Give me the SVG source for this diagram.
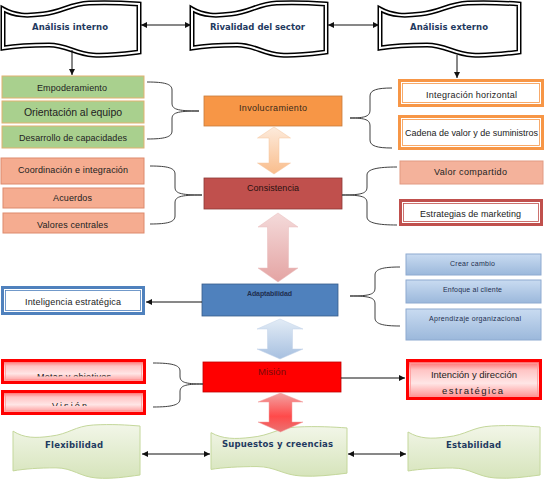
<svg xmlns="http://www.w3.org/2000/svg" xmlns:xlink="http://www.w3.org/1999/xlink" width="546" height="480" viewBox="0 0 546 480">
<style>
text{font-family:"Liberation Sans",Arial,sans-serif;font-size:9px;fill:#222}
.bt{font-family:"DejaVu Sans","Liberation Sans",sans-serif;font-weight:bold;font-size:8.5px;fill:#1f3a60}
.sm{font-size:7px;fill:#1f2f50}
.br{fill:none;stroke:#404040;stroke-width:1}
.ln{fill:none;stroke:#111;stroke-width:1}
.wOut{fill:#fff;stroke:#000;stroke-width:5}
.wIn{fill:none;stroke:#fff;stroke-width:2}
.wG{fill:url(#gGreen);stroke:#c4d79b;stroke-width:1}
.green{fill:#a9d08e;stroke:#e2b271;stroke-width:1}
.pink{fill:#f5ac90;stroke:#dd8a6d;stroke-width:1}
.blue{fill:url(#gBlue);stroke:#8eaad0;stroke-width:1}
.red{fill:url(#gRed);stroke:#ff0000;stroke-width:3}
.redIn{fill:none;stroke:#ff9a9a;stroke-width:0.8}
</style>
<defs>
<path id="wave" vector-effect="non-scaling-stroke" d="M0,6 C12,13 24,13 40,11 C60,9 66,1 86,0 C106,-1 122,0 136,1 L136,49 C120,51 106,53 90,52 C72,51 64,42 46,42 C28,42 12,43 0,45 Z"/>
<linearGradient id="gGreen" x1="0" y1="0" x2="0" y2="1"><stop offset="0" stop-color="#f2f6e8"/><stop offset="1" stop-color="#d6e4bb"/></linearGradient>
<linearGradient id="gBlue" x1="0" y1="0" x2="0" y2="1"><stop offset="0" stop-color="#c9dbf1"/><stop offset="1" stop-color="#9bb8db"/></linearGradient>
<linearGradient id="gRed" x1="0" y1="0" x2="0" y2="1"><stop offset="0" stop-color="#ff5a5a"/><stop offset="0.25" stop-color="#ffc4c4"/><stop offset="0.6" stop-color="#ffe6e6"/><stop offset="1" stop-color="#ff8a8a"/></linearGradient>
<linearGradient id="gA1" x1="0" y1="0" x2="0" y2="1"><stop offset="0" stop-color="#fdebdc"/><stop offset="1" stop-color="#f9bd8c"/></linearGradient>
<linearGradient id="gA2" x1="0" y1="0" x2="0" y2="1"><stop offset="0" stop-color="#f4dada"/><stop offset="1" stop-color="#e4a4a3"/></linearGradient>
<linearGradient id="gA3" x1="0" y1="0" x2="0" y2="1"><stop offset="0" stop-color="#e3ecf6"/><stop offset="1" stop-color="#a7c0e0"/></linearGradient>
<linearGradient id="gA4" x1="0" y1="0" x2="0" y2="1"><stop offset="0" stop-color="#f2a3a3"/><stop offset="0.6" stop-color="#ff4a4a"/><stop offset="1" stop-color="#ea7373"/></linearGradient>
<marker id="ah" viewBox="0 0 10 10" refX="10" refY="5" markerWidth="6" markerHeight="6" markerUnits="userSpaceOnUse" orient="auto-start-reverse"><path d="M0,0 L10,5 L0,10 Z" fill="#111"/></marker>
<clipPath id="cMetas"><rect x="4" y="362" width="139" height="14.5"/></clipPath>
<clipPath id="cVision"><rect x="4" y="393" width="139" height="13"/></clipPath>
</defs>

<g id="analisis-interno">
<use href="#wave" class="wOut" transform="translate(3,3)"/>
<use href="#wave" class="wIn" transform="translate(3,3)"/>
<text class="bt" x="32" y="30" textLength="76" lengthAdjust="spacing">Análisis interno</text>
</g>
<g id="rivalidad-sector">
<use href="#wave" class="wOut" transform="translate(192,3) scale(0.985,1)"/>
<use href="#wave" class="wIn" transform="translate(192,3) scale(0.985,1)"/>
<text class="bt" x="210" y="30" textLength="95" lengthAdjust="spacing">Rivalidad del sector</text>
</g>
<g id="analisis-externo">
<use href="#wave" class="wOut" transform="translate(380,3) scale(1.022,1)"/>
<use href="#wave" class="wIn" transform="translate(380,3) scale(1.022,1)"/>
<text class="bt" x="410" y="30" textLength="78" lengthAdjust="spacing">Análisis externo</text>
</g>

<g id="empoderamiento"><rect class="green" x="2" y="76" width="142" height="22"/><text x="37" y="91" font-size="8.5" textLength="70" lengthAdjust="spacing">Empoderamiento</text></g>
<g id="orientacion-equipo"><rect class="green" x="2" y="101" width="142" height="22"/><text x="24" y="116" style="font-size:10.5px" textLength="98" lengthAdjust="spacing">Orientación al equipo</text></g>
<g id="desarrollo-capacidades"><rect class="green" x="2" y="126" width="142" height="22"/><text x="19" y="141" textLength="108" lengthAdjust="spacing">Desarrollo de capacidades</text></g>

<g id="coordinacion"><rect class="pink" x="1" y="158" width="143" height="26"/><text x="18" y="173" textLength="110" lengthAdjust="spacing">Coordinación e integración</text></g>
<g id="acuerdos"><rect class="pink" x="3" y="188" width="141" height="20"/><text x="53" y="201" textLength="39" lengthAdjust="spacing">Acuerdos</text></g>
<g id="valores-centrales"><rect class="pink" x="3" y="213" width="141" height="20"/><text x="37" y="228" textLength="71" lengthAdjust="spacing">Valores centrales</text></g>

<g id="involucramiento"><rect x="204" y="96" width="138" height="30" fill="#f79646" stroke="#c77a3a" stroke-width="0.8"/><text x="239" y="111" textLength="68" lengthAdjust="spacing" style="fill:#3a2a1a">Involucramiento</text></g>
<g id="consistencia"><rect x="204" y="178" width="138" height="31" fill="#c0504d" stroke="#8c3836" stroke-width="0.8"/><text x="247" y="191" textLength="52" lengthAdjust="spacing" style="fill:#2a1010">Consistencia</text></g>
<g id="adaptabilidad"><rect x="202" y="284" width="136" height="32" fill="#4f81bd" stroke="#385d8a" stroke-width="0.8"/><text class="sm" x="247" y="295.5" font-weight="bold" textLength="45" lengthAdjust="spacing">Adaptabilidad</text></g>
<g id="mision"><rect x="203" y="362" width="138" height="30" fill="#ff0000" stroke="#c00000" stroke-width="0.8"/><text x="258" y="374.5" style="font-size:9.5px;fill:#7a0a0a" textLength="28" lengthAdjust="spacing">Misión</text></g>

<g id="integracion-horizontal"><rect x="399.5" y="80.5" width="143" height="25" fill="#fff" stroke="#f79646" stroke-width="3"/><rect x="402.5" y="83.5" width="137" height="19" fill="none" stroke="#f79646" stroke-width="0.8"/><text x="426" y="98" textLength="91" lengthAdjust="spacing">Integración horizontal</text></g>
<g id="cadena-valor"><rect x="399.5" y="116.5" width="143" height="32" fill="#fff" stroke="#f79646" stroke-width="3"/><rect x="402.5" y="119.5" width="137" height="26" fill="none" stroke="#f79646" stroke-width="0.8"/><text x="405" y="136" textLength="133" lengthAdjust="spacing">Cadena de valor y de suministros</text></g>
<g id="valor-compartido"><rect x="400" y="161" width="143" height="23" fill="#f4b29b" stroke="#e29a82" stroke-width="1"/><text x="434" y="175" textLength="73" lengthAdjust="spacing">Valor compartido</text></g>
<g id="estrategias-marketing"><rect x="400.5" y="200.5" width="141" height="24" fill="#fff" stroke="#c0504d" stroke-width="3"/><rect x="403.5" y="203.5" width="135" height="18" fill="none" stroke="#c0504d" stroke-width="0.8"/><text x="420" y="217" textLength="101" lengthAdjust="spacing">Estrategias de marketing</text></g>

<g id="inteligencia-estrategica"><rect x="2.5" y="287.5" width="141" height="26" fill="#fff" stroke="#4f81bd" stroke-width="3"/><rect x="5.5" y="290.5" width="135" height="20" fill="none" stroke="#4f81bd" stroke-width="0.8"/><text x="25" y="305" textLength="96" lengthAdjust="spacing">Inteligencia estratégica</text></g>

<g id="crear-cambio"><rect class="blue" x="406" y="254" width="135" height="21"/><text class="sm" x="450" y="265.5" textLength="45" lengthAdjust="spacing">Crear cambio</text></g>
<g id="enfoque-cliente"><rect class="blue" x="406" y="280" width="135" height="23"/><text class="sm" x="443" y="291.5" textLength="59" lengthAdjust="spacing">Enfoque al cliente</text></g>
<g id="aprendizaje-organizacional"><rect class="blue" x="406" y="309" width="135" height="31"/><text class="sm" x="429" y="320.5" textLength="92" lengthAdjust="spacing">Aprendizaje organizacional</text></g>

<g id="metas-objetivos"><rect class="red" x="2.5" y="360.5" width="142" height="22"/><rect class="redIn" x="5.5" y="363.5" width="136" height="16"/><text clip-path="url(#cMetas)" x="37" y="379.5" textLength="74" lengthAdjust="spacing">Metas y objetivos</text></g>
<g id="vision"><rect class="red" x="2.5" y="391.5" width="142" height="22"/><rect class="redIn" x="5.5" y="394.5" width="136" height="16"/><text clip-path="url(#cVision)" x="52" y="409" textLength="35" lengthAdjust="spacing">Visión</text></g>
<g id="intencion-direccion"><rect class="red" x="407.5" y="360.5" width="133" height="38"/><rect class="redIn" x="410.5" y="363.5" width="127" height="32"/><text x="431" y="378" style="font-size:9.5px" textLength="86" lengthAdjust="spacing">Intención y dirección</text><text x="442" y="393.5" style="font-size:9.5px" textLength="61" lengthAdjust="spacing">estratégica</text></g>

<g id="flexibilidad">
<use href="#wave" class="wG" transform="translate(13,425) scale(0.934,1.02)"/>
<text class="bt" x="45" y="448" textLength="58" lengthAdjust="spacing">Flexibilidad</text>
</g>
<g id="supuestos-creencias">
<use href="#wave" class="wG" transform="translate(211,427) scale(1,0.942)"/>
<text class="bt" x="222" y="447" textLength="111" lengthAdjust="spacing">Supuestos y creencias</text>
</g>
<g id="estabilidad">
<use href="#wave" class="wG" transform="translate(408,426) scale(0.971,1)"/>
<text class="bt" x="446" y="448" textLength="55" lengthAdjust="spacing">Estabilidad</text>
</g>

<g id="connectors">
<path class="ln" d="M141,25 L191,25" marker-start="url(#ah)" marker-end="url(#ah)"/>
<path class="ln" d="M328,25 L379,25" marker-start="url(#ah)" marker-end="url(#ah)"/>
<path class="ln" d="M72,50 L72,75" marker-end="url(#ah)"/>
<path class="ln" d="M457,55 L457,78" marker-end="url(#ah)"/>
<path class="ln" d="M202,302 L146,302" marker-end="url(#ah)"/>
<path class="ln" d="M341,378 L405,378" marker-end="url(#ah)"/>
<path class="ln" d="M142,454 L210,454" marker-start="url(#ah)" marker-end="url(#ah)"/>
<path class="ln" d="M348,454 L406,454" marker-start="url(#ah)" marker-end="url(#ah)"/>

<path class="br" d="M147,82 C165,82 172,84 172,90 L172,103 C172,109 176,111 199,111 C176,111 172,113 172,119 L172,131 C172,137 165,139 147,139"/>
<path class="br" d="M150,166 C168,166 175,168 175,174 L175,187 C175,193 179,195 202,195 C179,195 175,197 175,203 L175,216 C175,222 168,224 150,224"/>
<path class="br" d="M153,363 C172,363 180,365 180,371 L180,376 C180,382 184,384 203,384 C184,384 180,386 180,392 L180,399 C180,405 172,407 153,407"/>
<path class="br" d="M392,88 C377,88 370,90 370,96 L370,110 C370,116 366,118 350,118 C366,118 370,120 370,126 L370,140 C370,146 377,148 392,148"/>
<path class="br" d="M397,167 C378,167 367,169 367,175 L367,187 C367,193 363,195 342,195 C363,195 367,197 367,203 L367,217 C367,223 378,225 397,225"/>
<path class="br" d="M400,267 C383,267 375,269 375,275 L375,288 C375,294 371,296 350,296 C371,296 375,298 375,304 L375,318 C375,324 383,326 400,326"/>

<path d="M274,127 L290.5,138 L279,138 L279,163 L290.5,163 L274,174 L257.5,163 L269,163 L269,138 L257.5,138 Z" fill="url(#gA1)" stroke="#f4c49c" stroke-width="0.5"/>
<path d="M278,213 L298,227 L288.5,227 L288.5,268 L298,268 L278,282 L258,268 L267.5,268 L267.5,227 L258,227 Z" fill="url(#gA2)" stroke="#e8bcbc" stroke-width="0.5"/>
<path d="M280,319 L303,329 L292.5,329 L292.5,349 L303,349 L280,359 L257,349 L267.5,349 L267.5,329 L257,329 Z" fill="url(#gA3)" stroke="#c3d3e8" stroke-width="0.5"/>
<path d="M280.5,393 L303,402 L292,402 L292,422 L303,422 L280.5,432 L258,422 L269,422 L269,402 L258,402 Z" fill="url(#gA4)" stroke="#f0a0a0" stroke-width="0.5"/>
</g>
</svg>
